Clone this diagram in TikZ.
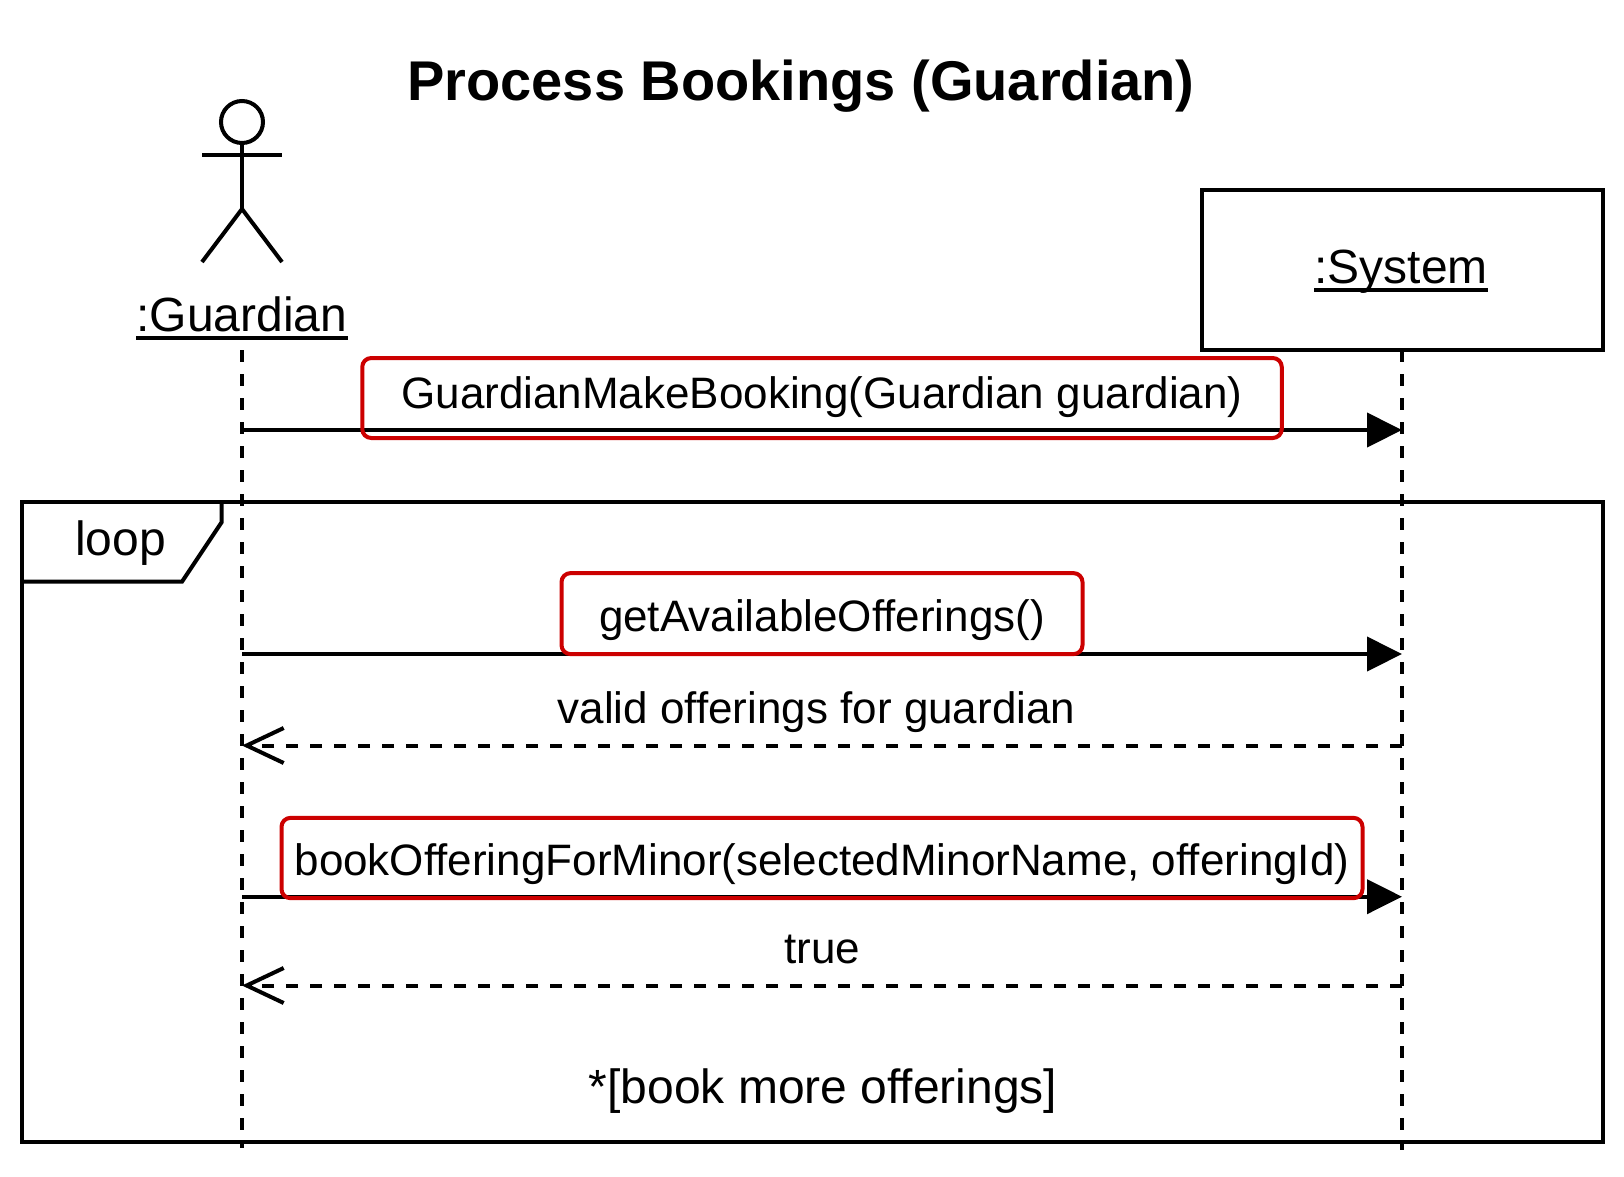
\documentclass[tikz,border=0pt]{standalone}
\usepackage{fontspec}
\setmainfont{Liberation Sans}
\usetikzlibrary{arrows.meta,positioning,calc}
\definecolor{boxred}{RGB}{204,0,0}
\tikzset{
    heavy/.style={line width=4pt},
    lifeline/.style={line width=4pt, dash pattern=on 12pt off 12pt},
    callmsg/.style={heavy, -{Triangle[length=35pt,width=34pt]}},
    backmsg/.style={line width=4pt, dash pattern=on 12pt off 12pt, -{Straight Barb[length=37pt,width=35pt,line width=4pt]}},
    msgbox/.style={draw=boxred, line width=4pt, rounded corners=9pt, inner sep=0pt, font=\fontsize{44}{50}\selectfont, text height=46pt, text depth=10pt},
    msgtext/.style={inner sep=0pt, anchor=base, font=\fontsize{44}{50}\selectfont},
    bigtext/.style={inner sep=0pt, anchor=base, font=\fontsize{48}{54}\selectfont},
}

\begin{document}
\begin{tikzpicture}[x=1pt,y=-1pt]
    \useasboundingbox (0,0) rectangle (1624,1176);

    \node[inner sep=0pt, anchor=base, font=\bfseries\fontsize{56}{62}\selectfont] (title) at (801,100) {Process Bookings (Guardian)};

    % actor
    \node[draw, circle, heavy, minimum size=42pt, inner sep=0pt] (head) at (242,122) {};
    \coordinate (hip) at (242,209);
    \draw[heavy] (head.south) -- (hip);
    \draw[heavy] (202,155) -- (282,155);
    \draw[heavy] (202,262) -- (hip) -- (282,262);
    \node[bigtext] (guardian) at (242,331) {:Guardian};
    \draw[heavy] ([yshift=-7pt]guardian.base west) -- ([yshift=-7pt]guardian.base east);

    \node[draw, heavy, minimum width=401pt, minimum height=160.5pt, inner sep=0pt] (system) at (1402,270) {};
    \node[bigtext] (systemlabel) at (1401,283) {:System};
    \draw[heavy] ([yshift=-7pt]systemlabel.base west) -- ([yshift=-7pt]systemlabel.base east);

    % loop frame
    \node[draw, heavy, minimum width=1581pt, minimum height=640pt, inner sep=0pt] (frame) at (812,821.7) {};
    \node[bigtext] (looplabel) at (120.5,555) {loop};
    \draw[heavy] (221.5,501.7) -- (221.5,522.4) -- (182,581.7) -- (22,581.7);

    % lifelines
    \coordinate (gtop) at (242,350);
    \coordinate (gend) at (242,1148);
    \coordinate (stop) at (1402,350);
    \coordinate (send) at (1402,1150);
    \draw[lifeline] (gtop) -- (gend);
    \draw[lifeline] (stop) -- (send);

    % messages
    \coordinate (g1) at (242,430);
    \coordinate (s1) at (1402,430);
    \coordinate (g2) at (242,654);
    \coordinate (s2) at (1402,654);
    \coordinate (g3) at (242,745.5);
    \coordinate (s3) at (1402,745.5);
    \coordinate (g4) at (242,896.7);
    \coordinate (s4) at (1402,896.7);
    \coordinate (g5) at (242,985.5);
    \coordinate (s5) at (1402,985.5);
    \draw[callmsg] (g1) -- (s1);
    \draw[callmsg] (g2) -- (s2);
    \draw[backmsg] (s3) -- (g3);
    \draw[callmsg] (g4) -- (s4);
    \draw[backmsg] (s5) -- (g5);

    \node[msgbox, text height=34pt, text depth=13pt, minimum width=919.5pt, minimum height=80pt] (makebooking) at (822,398) {GuardianMakeBooking(Guardian guardian)};
    \node[msgbox, minimum width=521pt, minimum height=81pt] (getofferings) at (822,613.6) {getAvailableOfferings()};
    \node[msgtext] (validoffer) at (816.5,723) {valid offerings for guardian};
    \node[msgbox, text height=45pt, minimum width=1081pt, minimum height=80.3pt] (bookoffer) at (822,858) {bookOfferingForMinor(selectedMinorName, offeringId)};
    \node[msgtext] (truelabel) at (822.3,963) {true};
    \node[bigtext] (bookmore) at (823,1103) {*[book more offerings]};
\end{tikzpicture}
\end{document}
